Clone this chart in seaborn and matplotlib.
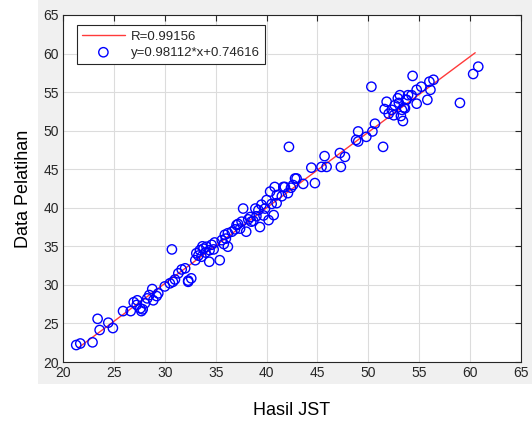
import matplotlib
matplotlib.use('Agg')
import matplotlib.pyplot as plt
from matplotlib.patches import Rectangle
import seaborn as sns
import numpy as np
import pandas as pd

# data (Hasil JST vs Data Pelatihan)
hasil = [21.3, 21.7, 22.9, 23.4, 23.6, 24.45, 24.9, 25.9, 26.65, 26.95, 27.3, 27.6,
         27.83, 28.05, 28.28, 28.48, 28.77, 29.2, 29.36, 28.87, 27.7, 27.24,
         30.0, 30.5, 30.8, 31.0, 31.33, 31.66, 32.0, 32.3, 32.3, 32.6, 30.7,
         33.0, 33.1, 33.45, 33.6, 33.8, 34.1, 34.37, 34.4, 34.6, 33.3, 34.0, 34.8, 35.4, 33.7, 34.9,
         35.6, 35.9, 36.2, 36.6, 36.2, 37.05, 37.4, 37.55, 37.7, 38.0, 38.4, 38.5, 36.0, 36.9, 37.2, 38.2, 35.8,
         38.9, 39.2, 39.35, 39.5, 39.85, 40.0, 40.2, 40.35, 40.7, 40.8, 41.0, 39.0, 39.7, 40.5, 38.7,
         40.99, 41.65, 42.1, 42.6, 42.95, 43.6, 41.8, 42.8, 42.2, 44.4, 44.75, 42.4, 41.5,
         45.7, 45.9, 45.4, 47.2, 47.7, 47.3, 49.0, 49.0, 48.8, 49.8, 50.4, 50.65, 51.45, 50.3,
         51.6, 51.8, 52.3, 52.6, 52.9, 53.1, 53.3, 53.4, 53.7, 54.25, 54.75, 54.75, 55.2, 55.8,
         56.0, 56.1, 56.4, 54.35, 52.0, 53.0, 53.5, 52.5, 53.2, 53.75, 53.6, 53.9,
         59.0, 60.3, 60.8]
pelatihan = [22.2, 22.4, 22.55, 25.6, 24.15, 25.1, 24.4, 26.6, 26.6, 27.75, 28.0, 26.95,
             26.83, 27.6, 28.25, 28.68, 29.46, 28.55, 28.9, 28.0, 26.6, 27.4,
             29.8, 30.2, 30.4, 30.7, 31.5, 32.0, 32.15, 30.55, 30.4, 30.85, 34.6,
             33.2, 34.1, 34.5, 33.65, 34.7, 34.95, 33.0, 34.5, 35.2, 33.8, 34.2, 34.6, 33.2, 35.0, 35.5,
             35.8, 36.5, 36.7, 36.9, 34.95, 37.76, 37.3, 38.2, 39.9, 36.9, 38.8, 38.2, 36.0, 37.2, 37.9, 38.5, 35.3,
             39.9, 39.7, 37.5, 40.4, 39.9, 41.0, 38.4, 42.1, 39.05, 42.7, 41.65, 38.9, 39.0, 40.5, 38.3,
             40.6, 42.7, 41.9, 42.95, 43.8, 43.1, 42.7, 43.8, 47.9, 45.2, 43.2, 42.6, 41.5,
             46.7, 45.3, 45.3, 47.1, 46.6, 45.3, 49.9, 48.6, 48.8, 49.2, 49.9, 50.9, 47.9, 55.7,
             52.8, 53.75, 52.7, 53.3, 54.2, 54.6, 52.7, 51.25, 54.0, 54.6, 55.3, 53.5, 55.7, 54.0,
             56.35, 55.3, 56.6, 57.1, 52.2, 53.6, 53.0, 52.0, 51.9, 54.0, 52.9, 54.6,
             53.6, 57.35, 58.3]
slope = 0.98112
intercept = 0.74616
r_value = 0.99156

df = pd.DataFrame({'Hasil JST': hasil, 'Data Pelatihan': pelatihan})
line_x = np.array([min(hasil) + 0.2, max(hasil) - 0.3])
fit = pd.DataFrame({'x': line_x, 'y': slope * line_x + intercept})

sns.set_style('whitegrid')
plt.rcParams['font.family'] = ['Liberation Sans', 'DejaVu Sans']

fig = plt.figure(figsize=(5.32, 4.21), dpi=100)
fig.patch.set_facecolor('white')
# grey MATLAB-style figure area behind the axes
fig.patches.append(Rectangle((38 / 532, 1 - 384 / 421), 1, 1, transform=fig.transFigure,
                             facecolor='#f0f0f0', edgecolor='none', zorder=-10))
ax = fig.add_axes([63 / 532, 1 - 362 / 421, 458 / 532, 347 / 421])
ax.set_zorder(1)
ax.set_facecolor('white')

sns.lineplot(data=fit, x='x', y='y', color='#ff3a3a', linewidth=1.0, ax=ax,
             label=f'R={r_value}', zorder=2)
sns.scatterplot(data=df, x='Hasil JST', y='Data Pelatihan', ax=ax, marker='o',
                s=45, facecolors='none', edgecolor='#0000ff', linewidth=1.0,
                label=f'y={slope}*x+{intercept}', zorder=3)

ax.set_xlim(20, 65)
ax.set_ylim(20, 65)
ax.set_xticks(range(20, 66, 5))
ax.set_yticks(range(20, 66, 5))
ax.grid(True, color='#dcdcdc', linewidth=0.8)
ax.tick_params(direction='in', length=4, top=True, right=True, colors='#262626',
               labelsize=10, pad=3, width=0.8)
for s in ax.spines.values():
    s.set_color('#262626')
    s.set_linewidth(0.8)

ax.set_xlabel('Hasil JST', fontsize=13, color='black')
ax.set_ylabel('Data Pelatihan', fontsize=13, color='black')
ax.xaxis.set_label_coords(0.5, -0.115)
ax.yaxis.set_label_coords(-0.068, 0.5)

leg = ax.legend(loc='upper left', bbox_to_anchor=(14 / 458, 1 - 10 / 347), borderaxespad=0,
                fontsize=9.5, frameon=True, fancybox=False, handlelength=3.2,
                borderpad=0.4, labelspacing=0.3, handletextpad=0.5)
leg.get_frame().set_edgecolor('#262626')
leg.get_frame().set_linewidth(0.8)
leg.get_frame().set_alpha(1)

fig.savefig('out.png', dpi=100)
